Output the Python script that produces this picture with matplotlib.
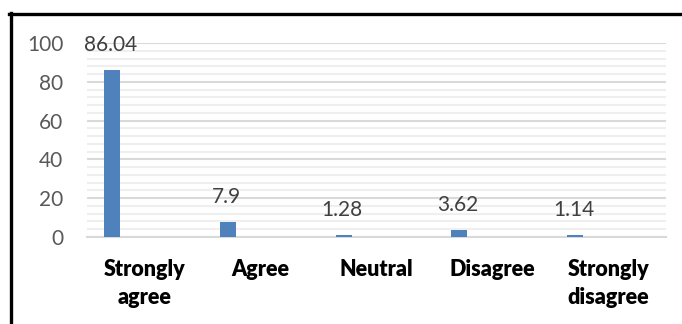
import matplotlib.pyplot as plt
from matplotlib.lines import Line2D
from matplotlib.ticker import MultipleLocator

# Responses (%)
categories = ['Strongly\nagree', 'Agree', 'Neutral', 'Disagree', 'Strongly\ndisagree']
values = [86.04, 7.9, 1.28, 3.62, 1.14]
labels = ['86.04', '7.9', '1.28', '3.62', '1.14']

plt.rcParams['font.family'] = ['Lato', 'DejaVu Sans']

fig = plt.figure(figsize=(6.82, 3.24), dpi=100)
ax = fig.add_axes([87 / 682, 87 / 324, 579 / 682, 194 / 324])

x = [i - 0.284 for i in range(len(values))]
bars = ax.bar(x, values, width=0.138, color='#4f81bd', zorder=3)

for b, lab in zip(bars, labels):
    ax.annotate(lab, (b.get_x() + b.get_width() / 2, b.get_height()),
                xytext=(-1, 18), textcoords='offset points',
                ha='center', va='center', fontsize=15, color='#404040',
                annotation_clip=False, zorder=4)

ax.set_xlim(-0.5, len(values) - 0.5)
ax.set_ylim(0, 100)
ax.yaxis.set_major_locator(MultipleLocator(20))
ax.yaxis.set_minor_locator(MultipleLocator(4))
ax.grid(axis='y', which='major', color='#d9d9d9', linewidth=1.5, zorder=0)
ax.grid(axis='y', which='minor', color='#efefef', linewidth=1.5, zorder=0)
ax.set_axisbelow(True)

ax.set_xticks(range(len(values)))
ax.set_xticklabels(categories, fontsize=15.5, fontweight='heavy', color='black',
                   linespacing=1.4)
ax.tick_params(axis='x', length=0, pad=16)
ax.tick_params(axis='y', which='both', length=0, pad=17, labelsize=15,
               labelcolor='#595959')

for side in ['top', 'right', 'left']:
    ax.spines[side].set_visible(False)
ax.spines['bottom'].set_color('#d9d9d9')
ax.spines['bottom'].set_linewidth(1.5)

# black frame around the chart (top and left edges)
fig.add_artist(Line2D([9 / 682, 1.0], [1 - 14 / 324, 1 - 14 / 324],
                      color='black', linewidth=2.4, transform=fig.transFigure))
fig.add_artist(Line2D([10.5 / 682, 10.5 / 682], [0, 1 - 13 / 324],
                      color='black', linewidth=2.4, transform=fig.transFigure))

fig.savefig('out.png', dpi=100)
